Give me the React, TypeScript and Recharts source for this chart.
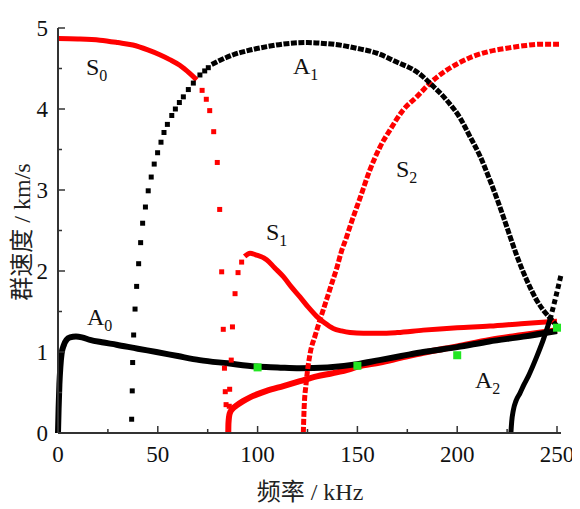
import { ComposedChart, Line, Scatter, XAxis, YAxis, ReferenceDot } from 'recharts';

type Pt = [number, number];

// frequency (kHz), group velocity (km/s)
const S0_TOP: Pt[] = [[0, 4.87], [10, 4.865], [21, 4.85], [30, 4.82], [37.5, 4.79], [45, 4.73], [51, 4.67], [56, 4.61], [61, 4.54], [66, 4.44], [69.5, 4.36]];
const S0_DROP: Pt[] = [[72.2, 4.23], [74.3, 4.12], [76, 3.98], [78, 3.72], [79.8, 3.34], [81, 2.76], [82, 1.99], [82.8, 1.28], [83.4, 0.8], [83.8, 0.51], [84.2, 0.35]];
const S1_RISE: Pt[] = [[85.8, 0.33], [86, 0.54], [86.8, 0.9], [87.4, 1.31], [88.7, 1.72], [90.2, 1.98], [92, 2.11]];
const S1_ARC: Pt[] = [[93.5, 2.18], [96.2, 2.22], [99, 2.2], [104.5, 2.14], [108.5, 2.04], [112.9, 1.93], [117, 1.8], [121.2, 1.68], [125.5, 1.55], [129.6, 1.44], [133.5, 1.36], [137.9, 1.29], [142, 1.26], [146.3, 1.24], [153, 1.23], [161.3, 1.23], [170, 1.24], [183, 1.27], [200, 1.3], [216.4, 1.32], [232, 1.35], [250, 1.38]];
const RED_LOW: Pt[] = [[85.3, 0], [85.4, 0.12], [86, 0.24], [87.5, 0.3], [89.5, 0.34], [92.5, 0.39], [96.2, 0.44], [100, 0.48], [104.5, 0.52], [112.9, 0.58], [121.2, 0.64], [129.6, 0.7], [137.9, 0.74], [146.3, 0.79], [150, 0.82], [161.3, 0.87], [172, 0.93], [183, 0.99], [200, 1.07], [216.4, 1.15], [233, 1.21], [250, 1.27]];
const S2: Pt[] = [[122.9, 0], [123.3, 0.3], [124.3, 0.61], [126.3, 0.98], [128.8, 1.2], [131.3, 1.4], [134.6, 1.65], [137.2, 1.85], [139.6, 2.03], [142.1, 2.25], [144.6, 2.42], [146.3, 2.55], [151.3, 2.9], [156.3, 3.25], [161.3, 3.53], [166.3, 3.74], [173, 3.99], [179.7, 4.15], [186.4, 4.32], [194.7, 4.48], [201, 4.57], [208, 4.65], [216, 4.71], [224.8, 4.75], [233, 4.78], [241.5, 4.8], [251, 4.8]];
const A0: Pt[] = [[0, 0], [0.3, 0.3], [0.7, 0.6], [1.2, 0.82], [1.8, 0.98], [3, 1.09], [4.3, 1.15], [6, 1.18], [9, 1.19], [12, 1.18], [16, 1.15], [22, 1.12], [29.3, 1.09], [40, 1.04], [49.3, 1.0], [60, 0.95], [71, 0.9], [85, 0.86], [99.4, 0.82], [110, 0.81], [121, 0.8], [135, 0.81], [150, 0.85], [161, 0.9], [172, 0.95], [183, 1.0], [200, 1.06], [216, 1.13], [233, 1.19], [250, 1.26]];
const A1_RISE: Pt[] = [[36.9, 0.17], [37.2, 0.52], [37.4, 0.87], [37.9, 1.21], [38.6, 1.53], [39.4, 1.81], [40.4, 2.09], [41.4, 2.35], [42.4, 2.59], [43.8, 2.79], [45.2, 2.99], [46.7, 3.16], [48.2, 3.32], [49.9, 3.46], [51.6, 3.59], [53.1, 3.71], [54.8, 3.81], [57, 3.92], [58.8, 4.0], [60.8, 4.08], [62.8, 4.15], [65.3, 4.24], [67.8, 4.32], [71.1, 4.42], [73.5, 4.47], [75.3, 4.51]];
const A1_TOP: Pt[] = [[77, 4.55], [82, 4.61], [87.8, 4.67], [95, 4.72], [104.6, 4.77], [116, 4.81], [125, 4.82], [133, 4.81], [141, 4.79], [149.6, 4.75], [159.7, 4.69], [169.7, 4.58], [179.7, 4.46], [188, 4.28], [194.7, 4.11], [201.4, 3.89], [206.4, 3.66], [211.4, 3.42], [216.4, 3.12], [219.8, 2.9], [223.1, 2.67], [225.6, 2.49], [228.1, 2.31], [230.6, 2.14], [234.8, 1.89], [239.8, 1.64], [243, 1.52], [246.5, 1.42], [250, 1.32]];
const A2_LOW: Pt[] = [[226.9, 0], [227.3, 0.14], [228.1, 0.28], [229.5, 0.4], [231.4, 0.49], [233.5, 0.6], [235.6, 0.7], [239.8, 0.94], [243.1, 1.15], [246.5, 1.4]];
const A2_UP: Pt[] = [[246.5, 1.4], [249, 1.64], [252, 1.95]];
const MEASURED: Pt[] = [[100, 0.81], [150, 0.83], [200, 0.96], [250, 1.3]];

const X_TICKS = [0, 25, 50, 75, 100, 125, 150, 175, 200, 225, 250];
const Y_TICKS = [0, 0.5, 1, 1.5, 2, 2.5, 3, 3.5, 4, 4.5, 5];

// mode names: [name, subscript, f, v]
const MODE_LABELS: [string, string, number, number][] = [
  ['S', '0', 14, 4.42],
  ['A', '1', 117.7, 4.43],
  ['S', '2', 169.3, 3.16],
  ['S', '1', 104.2, 2.38],
  ['A', '0', 14.5, 1.33],
  ['A', '2', 208.9, 0.56],
];

const SERIF = '"Liberation Serif", "Times New Roman", serif';
const TITLE_FONT = '"Liberation Serif", "Noto Sans CJK SC", serif';
const AXIS = '#333';

const pts = (a: Pt[]) => a.map(([x, y]) => ({ x, y }));

function XTick(props: any) {
  const { x, y, payload } = props;
  const major = payload.value % 50 === 0;
  return (
    <g>
      <line x1={x} x2={x} y1={y} y2={y - (major ? 7 : 4)} stroke={AXIS} strokeWidth={1.5} />
      {major && (
        <text x={x} y={y + 29} textAnchor="middle" fontSize={23} fontFamily={SERIF} fill="#111">
          {payload.value}
        </text>
      )}
    </g>
  );
}

function YTick(props: any) {
  const { x, y, payload } = props;
  const major = payload.value % 1 === 0;
  return (
    <g>
      <line x1={x} x2={x + (major ? 7 : 4)} y1={y} y2={y} stroke={AXIS} strokeWidth={1.5} />
      {major && (
        <text x={x - 10} y={y + 8} textAnchor="end" fontSize={23} fontFamily={SERIF} fill="#111">
          {payload.value}
        </text>
      )}
    </g>
  );
}

const square = (size: number, fill: string) => (p: any) => (
  <rect x={p.cx - size / 2} y={p.cy - size / 2} width={size} height={size} fill={fill} />
);

const modeLabel = (name: string, sub: string) => (p: any) => (
  <text x={p.cx} y={p.cy} fontSize={24} fontFamily={SERIF} fill="#111">
    {name}
    <tspan dy={6} fontSize={16}>{sub}</tspan>
  </text>
);

export default function App() {
  const line = (data: Pt[], color: string, width: number, dash?: string) => (
    <Line
      data={pts(data)}
      dataKey="y"
      type="monotone"
      stroke={color}
      strokeWidth={width}
      strokeDasharray={dash}
      dot={false}
      activeDot={false}
      isAnimationActive={false}
    />
  );

  return (
    <div style={{ position: 'relative', width: 572, height: 501 }}>
      <ComposedChart width={572} height={501} margin={{ top: 20, right: 19, bottom: 0, left: 0 }}>
        <XAxis
          dataKey="x"
          type="number"
          domain={[0, 252]}
          ticks={X_TICKS}
          interval={0}
          height={76}
          tickLine={false}
          tickSize={0}
          tickMargin={0}
          tick={<XTick />}
          axisLine={{ stroke: AXIS, strokeWidth: 2 }}
        />
        <YAxis
          type="number"
          domain={[0, 5]}
          ticks={Y_TICKS}
          interval={0}
          width={50}
          tickLine={false}
          tickSize={0}
          tickMargin={0}
          tick={<YTick />}
          axisLine={{ stroke: AXIS, strokeWidth: 2 }}
        />
        {line(RED_LOW, '#ff0000', 6)}
        <Scatter data={pts(S0_DROP)} dataKey="y" shape={square(5, '#ff0000')} isAnimationActive={false} />
        <Scatter data={pts(S1_RISE)} dataKey="y" shape={square(5, '#ff0000')} isAnimationActive={false} />
        {line(A0, '#000000', 6)}
        {line(S0_TOP, '#ff0000', 5)}
        {line(S1_ARC, '#ff0000', 5)}
        {line(S2, '#ff0000', 5, '6 2')}
        <Scatter data={pts(A1_RISE)} dataKey="y" shape={square(5, '#000000')} isAnimationActive={false} />
        {line(A1_TOP, '#000000', 5, '6 1.5')}
        {line(A2_LOW, '#000000', 5)}
        {line(A2_UP, '#000000', 5, '5 3')}
        <Scatter data={pts(MEASURED)} dataKey="y" shape={square(8, '#22e622')} isAnimationActive={false} />
        {MODE_LABELS.map(([name, sub, f, v]) => (
          <ReferenceDot key={name + sub} x={f} y={v} r={0} shape={modeLabel(name, sub)} />
        ))}
      </ComposedChart>
      <div
        style={{
          position: 'absolute',
          left: 14,
          top: 224,
          transform: 'translate(-50%, -50%) rotate(-90deg)',
          whiteSpace: 'nowrap',
          fontSize: 24,
          lineHeight: 1,
          fontFamily: TITLE_FONT,
          color: '#222',
        }}
      >
        群速度 / km/s
      </div>
      <div
        style={{
          position: 'absolute',
          left: 302,
          top: 484,
          transform: 'translate(-50%, -50%)',
          whiteSpace: 'nowrap',
          fontSize: 24,
          lineHeight: 1,
          fontFamily: TITLE_FONT,
          color: '#222',
        }}
      >
        频率 / kHz
      </div>
    </div>
  );
}
